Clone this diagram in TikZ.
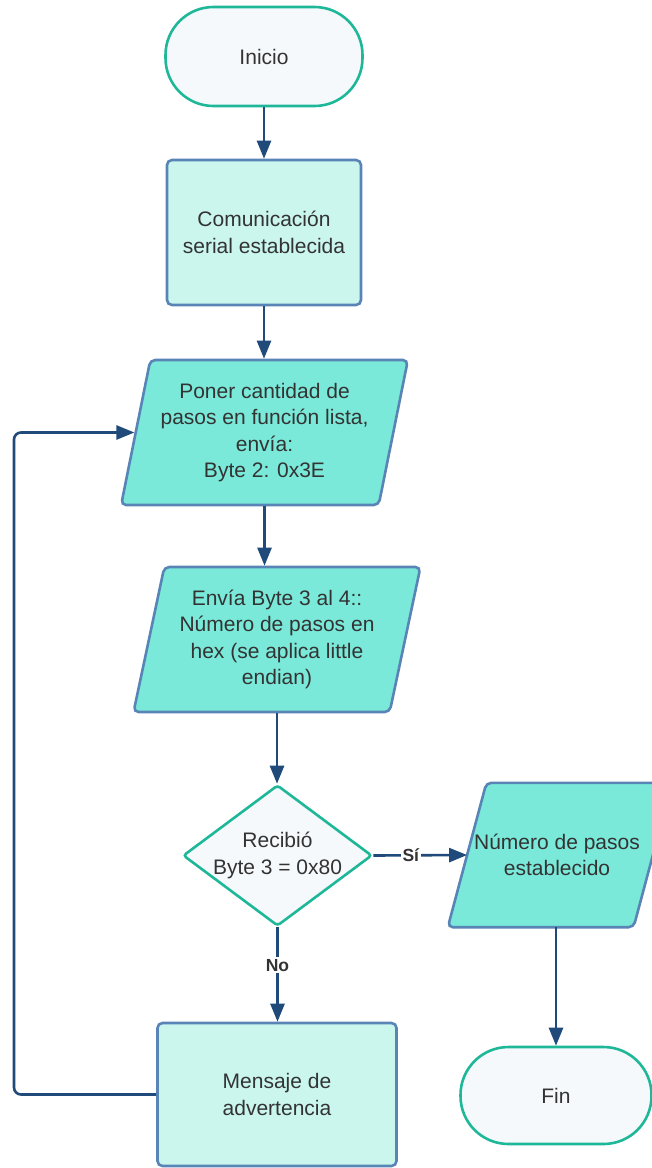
\documentclass[tikz,border=0pt]{standalone}
\usepackage{fontspec}
\setmainfont{Liberation Sans}
\usetikzlibrary{shapes.geometric,arrows.meta}
\definecolor{termb}{RGB}{30,184,152}
\definecolor{termf}{RGB}{246,249,252}
\definecolor{procb}{RGB}{88,132,182}
\definecolor{procf}{RGB}{202,246,238}
\definecolor{iof}{RGB}{122,233,217}
\definecolor{arrc}{RGB}{31,74,122}
\definecolor{txtc}{RGB}{51,51,51}
\begin{document}
\begin{tikzpicture}[x=1pt,y=-1pt,
  base/.style={font=\fontsize{21}{26.5}\selectfont, text=txtc, align=center, inner sep=0pt, line width=2.6pt},
  term/.style={base, draw=termb, fill=termf, rectangle, rounded corners=48pt},
  proc/.style={base, draw=procb, fill=procf, rectangle, rounded corners=5pt},
  io/.style={base, draw=procb, fill=iof, trapezium, trapezium left angle=75, trapezium right angle=105, trapezium stretches=true, rounded corners=5pt},
  iopath/.style={draw=procb, fill=iof, line width=2.6pt, rounded corners=5pt},
  dec/.style={base, draw=termb, fill=termf, diamond, rounded corners=3pt},
  arr/.style={draw=arrc, line width=2.6pt, -{Triangle[length=18pt,width=14pt]}},
  lab/.style={font=\bfseries\fontsize{17.5}{20}\selectfont, text=txtc, fill=white, inner sep=1.5pt}
]
\useasboundingbox[fill=white] (0,0) rectangle (652,1168);
\clip (0,0) rectangle (652,1168);

\node[term, minimum width=197pt, minimum height=99pt] (ini) at (264,56.5) {Inicio};
\node[proc, minimum width=194pt, minimum height=145pt] (com) at (264,232.5) {Comunicación\\serial establecida};
\node[io, minimum width=287pt, minimum height=145pt] (p1) at (264.5,432.5) {Poner cantidad de\\pasos en función lista,\\envía:\\Byte 2: 0x3E};
\node[io, minimum width=287pt, minimum height=145pt] (p2) at (277,639.5) {Envía Byte 3 al 4::\\Número de pasos en\\hex (se aplica little\\endian)};
\node[dec, minimum width=189pt, minimum height=141pt, label={[base, align=center]center:Recibió\\Byte 3 = 0x80}] (d) at (277.5,855.5) {};

\node[rectangle, inner sep=0pt, minimum width=224pt, minimum height=144pt] (p3) at (560,855) {};
\draw[iopath] ([xshift=38.6pt]p3.north west) -- (p3.north east) -- ([xshift=-38.6pt]p3.south east) -- (p3.south west) -- cycle;
\node[base] (p3t) at ([xshift=-3pt]p3.center) {Número de pasos\\establecido};
\coordinate (p3l) at ([xshift=19.3pt]p3.west);

\node[term, minimum width=191pt, minimum height=97pt] (fin) at (556,1095.5) {Fin};
\node[proc, minimum width=239pt, minimum height=143pt] (msg) at (277,1094.5) {Mensaje de\\advertencia};
\coordinate (lc) at (14,432.5);

\draw[arr] (ini.south) -- (ini.south |- com.north);
\draw[arr] (com.south) -- (com.south |- p1.north);
\draw[arr] (p1.south) -- (p1.south |- p2.north);
\draw[arr] (p2.south) -- (p2.south |- d.north);
\draw[arr] (d.east) -- node[lab, pos=0.4] {Sí} (p3l);
\draw[arr] (fin.north |- p3.south) -- (fin.north);
\draw[arr] (d.south) -- node[lab, pos=0.4] {No} (d.south |- msg.north);
\draw[arr, rounded corners=7pt] (msg.west) -| (lc) -- (p1.west);
\end{tikzpicture}
\end{document}
